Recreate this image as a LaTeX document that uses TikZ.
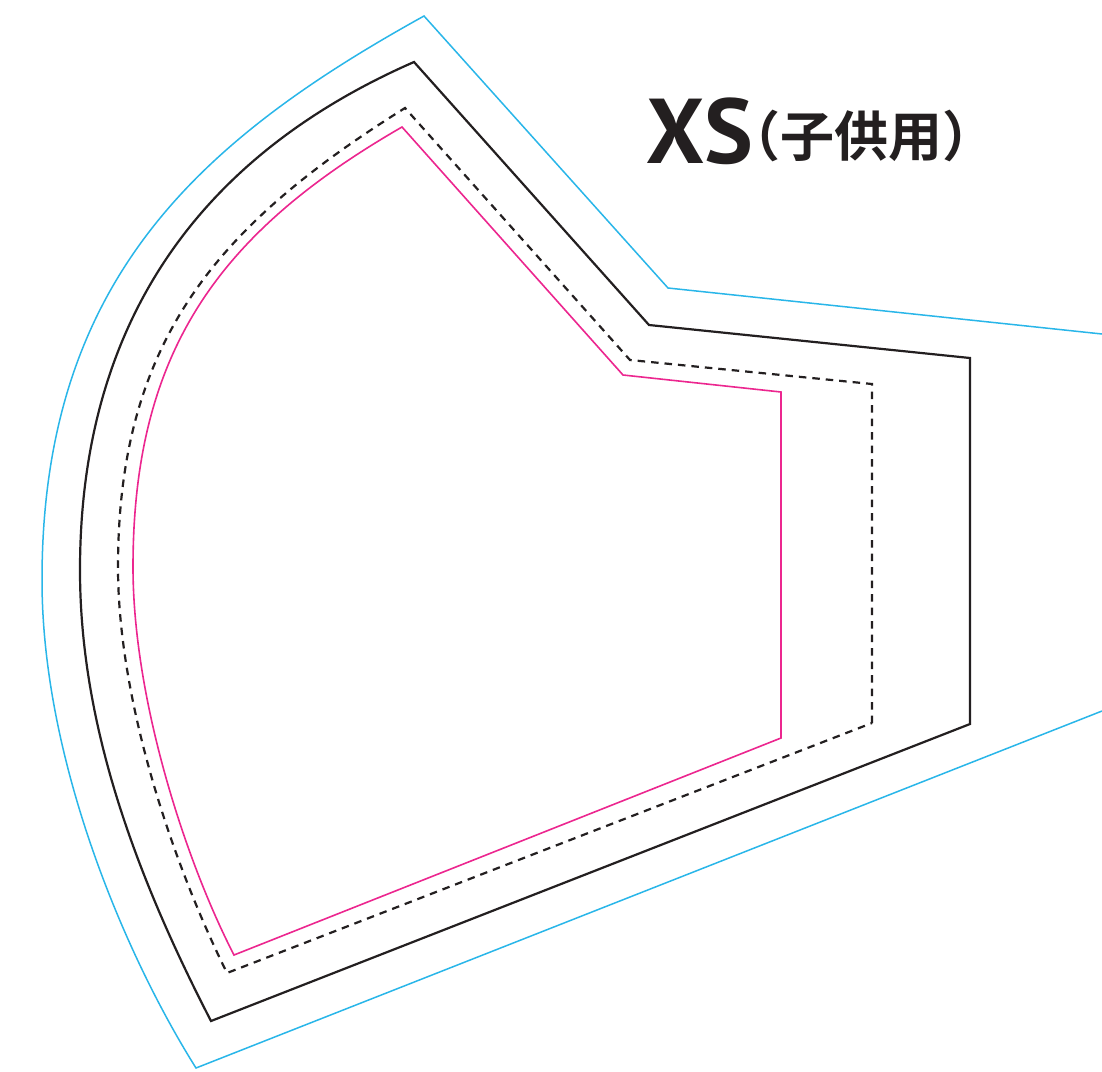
\documentclass[tikz,border=0pt]{standalone}
\usepackage{fontspec}
\setmainfont{PT Sans}
\newfontfamily\cjkfont{Noto Sans CJK JP}[BoldFont={* Bold}]
\definecolor{cutcyan}{RGB}{41,182,233}
\definecolor{sewpink}{RGB}{236,38,143}
\definecolor{inkblack}{RGB}{35,31,32}
\tikzset{
  cutline/.style={draw=cutcyan,line width=1.5pt,line join=miter},
  outline/.style={draw=inkblack,line width=2.2pt,line join=miter},
  dashline/.style={draw=inkblack,line width=2.2pt,dash pattern=on 7.5pt off 6pt},
  pinkline/.style={draw=sewpink,line width=1.6pt,line join=miter},
}
\begin{document}
\begin{tikzpicture}[x=1pt,y=-1pt]
\useasboundingbox[fill=white] (0,0) rectangle (1102,1071);
% cyan cut line
\draw[cutline] (1102,334) -- (668,288) -- (424,16)
  .. controls (200,140) and (42,280) .. (42,580)
  .. controls (42,760) and (125,955) .. (196,1068) -- (1102,711);
% black outline
\draw[outline] (970,724) -- (970,358) -- (649,325) -- (414,62)
  .. controls (222,146) and (80,300) .. (80,570)
  .. controls (80,720) and (132,868) .. (211,1021) -- cycle;
% dashed line
\draw[dashline] (872,723) -- (872,384) -- (630,360) -- (405,108)
  .. controls (218,225) and (118,340) .. (118,567)
  .. controls (118,700) and (172,862) .. (227,973) -- cycle;
% pink line
\draw[pinkline] (781,738) -- (781,392) -- (623,375) -- (402,127)
  .. controls (220,232) and (133,350) .. (133,567)
  .. controls (133,700) and (186,862) .. (234,955) -- cycle;
% title
\node[anchor=base west,inner sep=0pt,text=inkblack] (title) at (646,163)
  {\fontsize{92}{92}\selectfont\bfseries\makebox[80pt][l]{XS}\raisebox{7pt}{\cjkfont\fontsize{54}{54}\selectfont\bfseries （子供用）}};
\end{tikzpicture}
\end{document}
